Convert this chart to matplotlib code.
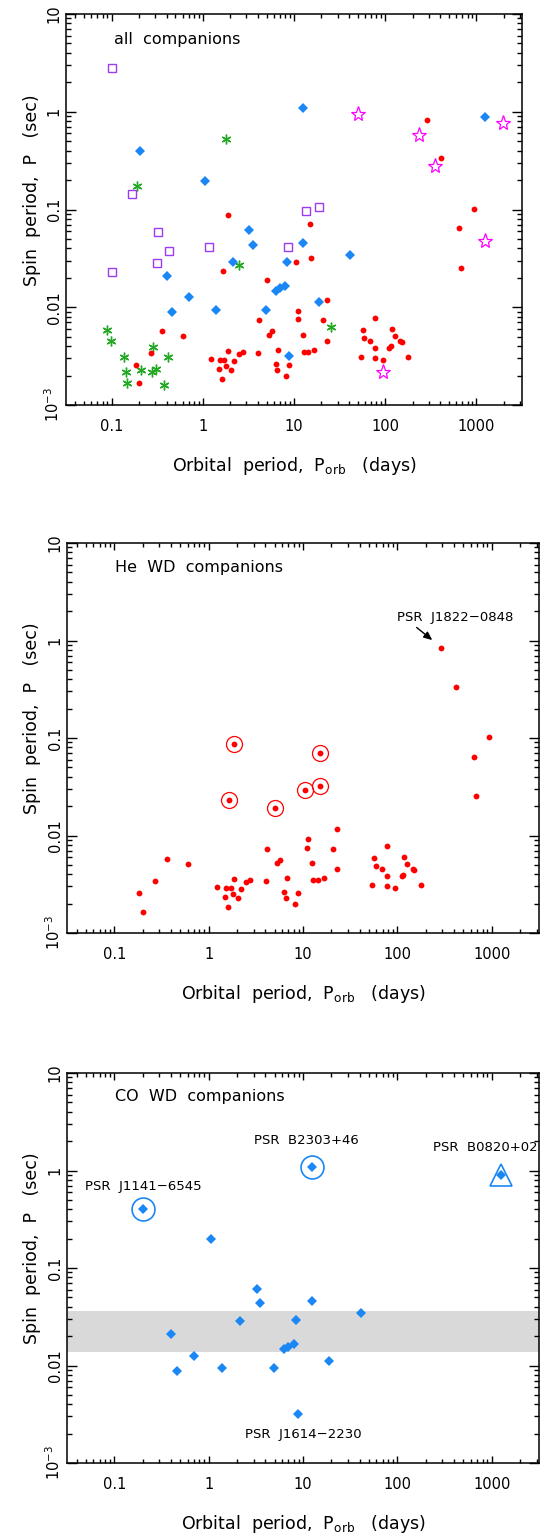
import matplotlib
matplotlib.use("Agg")
import matplotlib.pyplot as plt
from matplotlib.ticker import FixedLocator, NullFormatter, LogLocator

plt.rcParams["font.family"] = ["DejaVu Sans"]
plt.rcParams["mathtext.fontset"] = "dejavusans"

# ---- He white-dwarf companions: orbital period (days), spin period (s)
he_porb = [1.87, 1.66, 5.05, 10.6, 15.1, 15.3, 933, 642, 674, 290, 414,
           0.183, 0.202, 0.268, 0.360, 0.610, 1.22, 1.54, 1.71, 1.49, 1.62,
           1.81, 1.87, 2.05, 2.22, 2.49, 2.77, 4.12, 4.08, 5.26, 5.76, 6.35,
           6.56, 6.73, 8.17, 8.87, 11.0, 11.2, 12.4, 12.9, 14.4, 16.6, 21.0,
           22.9, 22.9, 54.2, 56.5, 58.8, 68.0, 76.9, 76.9, 76.9, 93.5, 111,
           116, 118, 127, 147, 151, 178]
he_p = [0.0875, 0.0233, 0.0191, 0.0293, 0.0706, 0.0322, 0.1016, 0.0643,
        0.0252, 0.832, 0.333,
        0.00255, 0.00166, 0.00339, 0.00574, 0.00514, 0.00299, 0.00290,
        0.00290, 0.00232, 0.00183, 0.00251, 0.00358, 0.00226, 0.00283,
        0.00336, 0.00352, 0.00733, 0.00344, 0.00519, 0.00565, 0.00261,
        0.00229, 0.00364, 0.00200, 0.00257, 0.00750, 0.00914, 0.00526,
        0.00347, 0.00352, 0.00366, 0.00733, 0.01175, 0.00453, 0.00309,
        0.00583, 0.00486, 0.00450, 0.00785, 0.00385, 0.00303, 0.00290,
        0.00381, 0.00397, 0.00601, 0.00511, 0.00453, 0.00440, 0.00309]
he_ringed = [0, 1, 2, 3, 4, 5]          # systems marked with an open circle

# ---- CO white-dwarf companions
co_porb = [0.203, 12.6, 1241, 1.05, 3.23, 3.53, 12.6, 41.1, 2.15, 8.43,
           0.403, 8.03, 6.94, 6.34, 0.706, 18.8, 0.459, 1.38, 4.90, 8.79]
co_p = [0.400, 1.087, 0.893, 0.198, 0.0614, 0.0438, 0.0456, 0.0343, 0.0289,
        0.0290, 0.0209, 0.0165, 0.0156, 0.0148, 0.0126, 0.0112, 0.00885,
        0.00935, 0.00942, 0.00315]
co_ringed = [0, 1]                      # PSR J1141-6545, PSR B2303+46
co_triangle = [2]                       # PSR B0820+02
co_band = (0.0139, 0.0362)

# ---- other companion types (top panel only)
ultralight_porb = [1.81, 0.188, 2.47, 25.5, 0.0897, 0.0985, 0.138, 0.144,
                   0.148, 0.208, 0.285, 0.276, 0.305, 0.419, 0.376]
ultralight_p = [0.523, 0.174, 0.0270, 0.00624, 0.00584, 0.00452, 0.00308,
                0.00219, 0.00167, 0.00228, 0.00389, 0.00219, 0.00233,
                0.00312, 0.00160]
square_porb = [0.101, 0.166, 0.102, 0.323, 0.317, 0.422, 1.17, 8.59, 13.4, 18.7]
square_p = [2.78, 0.145, 0.0228, 0.0593, 0.0286, 0.0380, 0.0410, 0.0410,
            0.0957, 0.105]
star_porb = [50.3, 233, 351, 1941, 1242, 95.3]
star_p = [0.942, 0.574, 0.281, 0.773, 0.0480, 0.00216]

x_ticks = [0.1, 1, 10, 100, 1000]
x_ticklabels = ["0.1", "1", "10", "100", "1000"]
y_ticks = [1e-3, 0.01, 0.1, 1, 10]
y_ticklabels = [r"$10^{-3}$", "0.01", "0.1", "1", "10"]

RED = "#ff0000"
BLUE = "#1a87f5"
GREEN = "#22a822"
PURPLE = "#9b3cf0"
MAGENTA = "#ff00ff"

W, H = 540, 1537
fig = plt.figure(figsize=(W / 100, H / 100), dpi=100)


def make_axes(left, top, right, bottom):
    ax = fig.add_axes([left / W, 1 - bottom / H, (right - left) / W,
                       (bottom - top) / H])
    ax.set_xscale("log")
    ax.set_yscale("log")
    ax.set_xlim(10 ** -1.5, 10 ** 3.5)
    ax.set_ylim(1e-3, 10)
    ax.xaxis.set_major_locator(FixedLocator(x_ticks))
    ax.xaxis.set_minor_locator(LogLocator(base=10, subs=range(2, 10)))
    ax.xaxis.set_minor_formatter(NullFormatter())
    ax.set_xticklabels(x_ticklabels)
    ax.yaxis.set_major_locator(FixedLocator(y_ticks))
    ax.yaxis.set_minor_locator(LogLocator(base=10, subs=range(2, 10)))
    ax.yaxis.set_minor_formatter(NullFormatter())
    ax.set_yticklabels(y_ticklabels, rotation=90, va="center")
    ax.tick_params(which="both", direction="in", top=True, right=True,
                   width=1.0, labelsize=10.5, colors="black")
    ax.tick_params(axis="x", which="major", length=5, pad=10)
    ax.tick_params(axis="x", which="minor", length=2.8)
    ax.tick_params(axis="y", which="major", length=7, pad=3)
    ax.tick_params(axis="y", which="minor", length=3.5)
    for s in ax.spines.values():
        s.set_linewidth(1.1)
    ax.set_xlabel(r"Orbital  period,  P$_{\rm orb}$   (days)", fontsize=12.5)
    ax.set_ylabel("Spin  period,  P   (sec)", fontsize=12.5)
    ax.xaxis.set_label_coords(0.5, -0.127)
    ax.yaxis.set_label_coords(-0.055, 0.55)
    return ax


def he_dots(ax):
    ax.plot(he_porb, he_p, "o", color=RED, ms=4.2, mew=0, zorder=4)


def co_diamonds(ax):
    ax.plot(co_porb, co_p, "D", color=BLUE, ms=5.2, mew=0, zorder=4)


# ---------------- panel 1: all companions
ax1 = make_axes(66, 14, 522, 405)
ax1.plot(ultralight_porb, ultralight_p, ls="none", marker=(6, 2, 0),
         color=GREEN, ms=7, mew=1.0, zorder=3)
ax1.plot(square_porb, square_p, "s", mfc="none", mec=PURPLE, ms=6,
         mew=1.0, zorder=3)
ax1.plot(star_porb, star_p, "*", mfc="none", mec=MAGENTA, ms=11,
         mew=0.9, zorder=3)
co_diamonds(ax1)
he_dots(ax1)
ax1.text(0.105, 0.936, "all  companions", transform=ax1.transAxes,
         fontsize=11.5, va="center", ha="left")

# ---------------- panel 2: He WD companions
ax2 = make_axes(67, 543, 539, 933)
he_dots(ax2)
ax2.plot([he_porb[i] for i in he_ringed], [he_p[i] for i in he_ringed],
         "o", mfc="none", mec=RED, ms=11.5, mew=0.9, zorder=4)
ax2.text(0.102, 0.938, "He  WD  companions", transform=ax2.transAxes,
         fontsize=11.5, va="center", ha="left")
ax2.text(407, 1.74, "PSR  J1822\u22120848", fontsize=9.5, ha="center",
         va="center")
ax2.annotate("", xy=(234, 1.01), xytext=(160, 1.36),
             arrowprops=dict(arrowstyle="-|>,head_length=0.5,head_width=0.22",
                             color="black", lw=1.0, shrinkA=0, shrinkB=0))

# ---------------- panel 3: CO WD companions
ax3 = make_axes(67, 1073, 539, 1463)
ax3.axhspan(co_band[0], co_band[1], color="#d9d9d9", lw=0, zorder=1)
co_diamonds(ax3)
ax3.plot([co_porb[i] for i in co_ringed], [co_p[i] for i in co_ringed],
         "o", mfc="none", mec=BLUE, ms=16.5, mew=1.2, zorder=4)
ax3.plot([co_porb[i] for i in co_triangle], [co_p[i] for i in co_triangle],
         "^", mfc="none", mec=BLUE, ms=16, mew=1.2, zorder=4)
ax3.text(0.102, 0.941, "CO  WD  companions", transform=ax3.transAxes,
         fontsize=11.5, va="center", ha="left")
ax3.text(0.202, 0.693, "PSR  J1141\u22126545", fontsize=9.5, ha="center",
         va="center")
ax3.text(10.8, 2.01, "PSR  B2303+46", fontsize=9.5, ha="center", va="center")
ax3.text(847, 1.74, "PSR  B0820+02", fontsize=9.5, ha="center", va="center")
ax3.text(10.0, 0.00194, "PSR  J1614\u22122230", fontsize=9.5, ha="center",
         va="center")

fig.savefig("out.png", dpi=100)
